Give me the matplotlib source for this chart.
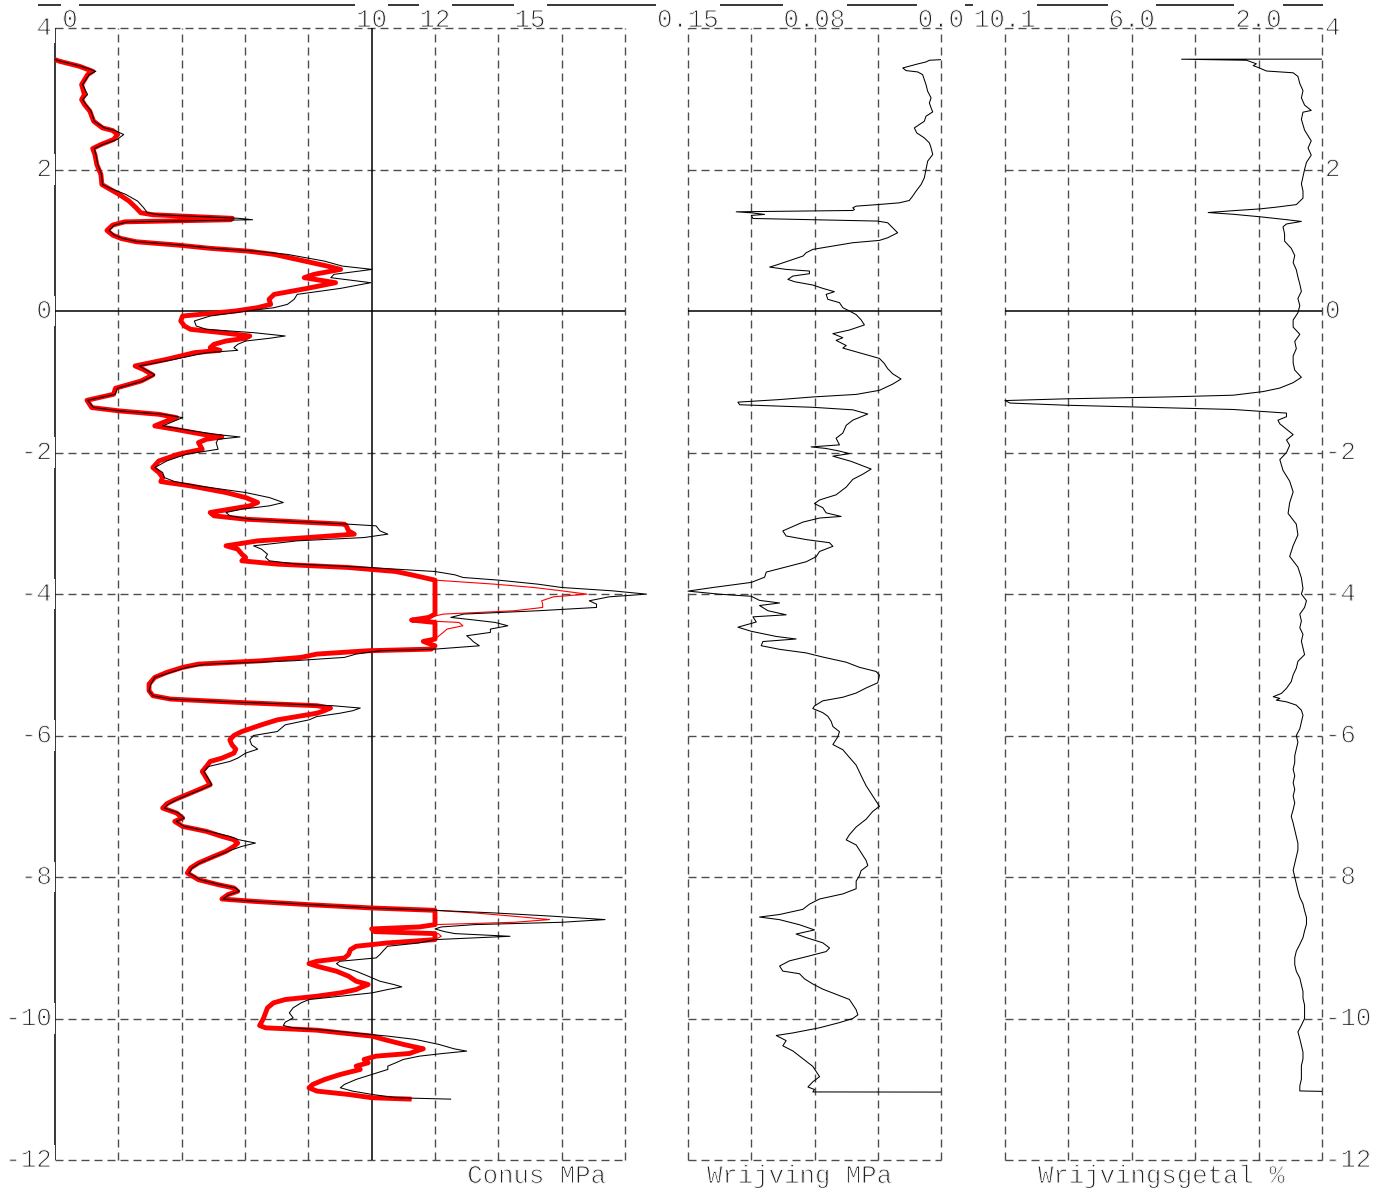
import matplotlib
matplotlib.use("Agg")
import matplotlib.pyplot as plt
import matplotlib.patheffects as pe
import numpy as np
from matplotlib.lines import Line2D
from matplotlib.transforms import IdentityTransform

plt.rcParams['font.family'] = ['Liberation Mono', 'DejaVu Sans Mono']
plt.rcParams['lines.scale_dashes'] = False
plt.rcParams['lines.solid_capstyle'] = 'butt'
plt.rcParams['lines.dash_capstyle'] = 'butt'

W, H, DPI = 1385, 1188, 100
PX = 72.0 / DPI          # points per pixel
FS = 18.5
# light strokes for the lettering
THIN = [pe.Normal(), pe.Stroke(linewidth=0.75, foreground='white')]

# ---------------- cone resistance (MPa) ----------------
conus_depth = [
    3.553, 3.529, 3.459, 3.388, 3.341, 3.200, 3.059, 2.988, 2.918, 2.824,
    2.682, 2.588, 2.551, 2.494, 2.424, 2.353, 2.296, 2.212, 2.071, 1.929,
    1.788, 1.741, 1.647, 1.553, 1.459, 1.388, 1.360, 1.310, 1.290, 1.260,
    1.214, 1.139, 1.073, 1.026, 0.979, 0.932, 0.885, 0.847, 0.800, 0.706,
    0.635, 0.588, 0.518, 0.471, 0.400, 0.320, 0.235, 0.165, 0.094, 0.047,
    0.000,
    -0.071, -0.141, -0.212, -0.259, -0.306, -0.353, -0.386, -0.424, -0.471, -0.518,
    -0.556, -0.589, -0.683, -0.777, -0.824, -0.904, -0.989, -1.092, -1.177, -1.262,
    -1.365, -1.412, -1.460, -1.507, -1.554, -1.624, -1.671, -1.742, -1.780, -1.813,
    -1.860, -1.954, -2.024, -2.119, -2.213, -2.283, -2.354, -2.411, -2.472, -2.566,
    -2.637, -2.707, -2.754, -2.801, -2.848, -2.895, -2.943, -2.976, -3.013, -3.037,
    -3.107, -3.154, -3.202, -3.249, -3.319, -3.366, -3.437, -3.484, -3.531, -3.578,
    -3.625, -3.682, -3.729, -3.766, -3.804, -3.861, -3.908, -3.955, -4.002, -4.040,
    -4.096, -4.143, -4.190, -4.237, -4.284, -4.331, -4.369, -4.402, -4.449, -4.496,
    -4.543, -4.590, -4.637, -4.670, -4.732, -4.779, -4.802, -4.849, -4.896, -4.944,
    -4.991, -5.038, -5.108, -5.179, -5.273, -5.367, -5.438, -5.485, -5.532, -5.579,
    -5.612, -5.650, -5.685, -5.732, -5.779, -5.849, -5.944, -6.000, -6.061, -6.132,
    -6.193, -6.249, -6.320, -6.367, -6.438, -6.508, -6.602, -6.696, -6.767, -6.838,
    -6.908, -6.965, -7.026, -7.096, -7.167, -7.214, -7.285, -7.355, -7.426, -7.473,
    -7.520, -7.567, -7.638, -7.708, -7.802, -7.873, -7.944, -8.038, -8.108, -8.155,
    -8.202, -8.249, -8.311, -8.344, -8.391, -8.438, -8.471, -8.508, -8.555, -8.602,
    -8.640, -8.673, -8.706, -8.734, -8.772, -8.800, -8.838, -8.885, -8.932, -8.979,
    -9.026, -9.096, -9.144, -9.191, -9.224, -9.261, -9.332, -9.402, -9.473, -9.520,
    -9.553, -9.591, -9.638, -9.685, -9.732, -9.779, -9.849, -9.920, -9.991, -10.052,
    -10.099, -10.132, -10.165, -10.202, -10.249, -10.296, -10.367, -10.428, -10.461, -10.494,
    -10.532, -10.579, -10.626, -10.673, -10.720, -10.791, -10.861, -10.932, -10.979, -11.026,
    -11.073, -11.120, -11.140,
]

# measured cone resistance
conus_raw = [
    0.00, 0.19, 0.82, 1.29, 1.08, 0.87, 1.03, 0.87, 0.98, 1.14,
    1.24, 1.56, 1.89, 2.17, 1.96, 1.50, 1.24, 1.29, 1.35, 1.47,
    1.50, 1.71, 2.24, 2.61, 2.80, 2.92, 3.30, 5.80, 6.24, 2.30,
    1.87, 1.71, 1.87, 2.13, 2.61, 3.97, 5.03, 6.29, 7.34, 8.50,
    9.07, 10.02, 8.81, 8.71, 9.97, 9.02, 7.65, 7.55, 7.34, 6.92,
    6.08,
    4.90, 4.40, 4.46, 4.78, 6.27, 7.27, 6.77, 6.02, 5.77, 5.65,
    5.77, 4.78, 3.78, 2.66, 2.84, 3.15, 2.78, 1.97, 1.90, 1.03,
    1.22, 2.03, 3.40, 4.03, 3.78, 3.40, 4.03, 5.02, 5.84, 5.15,
    5.09, 5.15, 4.15, 3.53, 3.15, 3.40, 3.45, 3.78, 4.53, 6.02,
    6.77, 7.21, 6.77, 5.90, 5.40, 5.52, 6.15, 7.64, 9.26, 10.14,
    10.26, 10.51, 9.76, 7.64, 6.27, 6.52, 6.71, 6.65, 6.77, 7.64,
    9.89, 12.00, 12.63, 12.88, 14.00, 15.25, 16.00, 17.60, 18.68, 17.50,
    16.87, 17.10, 17.10, 15.25, 12.90, 12.50, 13.27, 13.90, 14.30, 13.75,
    13.75, 13.00, 13.13, 13.20, 13.40, 12.00, 10.26, 9.51, 9.14, 7.52,
    4.78, 4.15, 3.65, 3.15, 3.03, 2.97, 3.09, 3.65, 5.90, 8.77,
    9.64, 9.40, 9.00, 8.27, 8.02, 7.27, 7.02, 6.27, 6.15, 6.21,
    6.40, 6.02, 5.77, 5.52, 4.85, 4.70, 4.83, 4.95, 4.60, 4.20,
    3.85, 3.60, 3.45, 3.90, 4.08, 3.83, 4.08, 4.85, 5.52, 5.80,
    6.33, 5.90, 5.45, 5.07, 4.58, 4.33, 4.23, 4.58, 5.20, 5.70,
    5.82, 5.50, 5.30, 6.30, 8.10, 10.01, 12.00, 13.88, 15.75, 17.37,
    16.00, 13.25, 12.20, 12.00, 12.30, 12.63, 14.37, 12.00, 11.50, 10.50,
    10.40, 10.26, 10.14, 9.00, 8.89, 9.00, 9.51, 9.89, 10.26, 10.70,
    10.95, 10.50, 10.01, 9.01, 8.02, 7.77, 7.52, 7.40, 7.52, 7.27,
    7.21, 7.52, 8.52, 9.39, 10.51, 11.38, 12.13, 12.60, 13.00, 12.26,
    11.51, 11.00, 10.76, 10.51, 10.51, 10.01, 9.51, 9.14, 9.01, 9.39,
    10.01, 10.76, 12.51,
]

# corrected cone resistance
conus_corr = [
    0.00, 0.15, 0.77, 1.19, 1.03, 0.84, 0.93, 0.84, 0.93, 1.10,
    1.22, 1.50, 1.82, 1.98, 1.85, 1.45, 1.19, 1.26, 1.32, 1.45,
    1.48, 1.66, 2.03, 2.34, 2.56, 2.71, 3.10, 5.60, 5.55, 2.20,
    1.82, 1.64, 1.82, 2.08, 2.56, 3.87, 4.92, 6.08, 6.92, 7.87,
    8.60, 9.02, 8.18, 7.87, 8.86, 7.97, 6.92, 6.76, 6.81, 6.39,
    5.70,
    4.03, 3.97, 4.09, 4.28, 5.27, 6.15, 6.00, 5.40, 5.02, 4.90,
    5.21, 4.40, 3.53, 2.53, 2.78, 3.09, 2.72, 1.91, 1.85, 1.01,
    1.16, 2.03, 3.28, 3.84, 3.53, 3.15, 3.78, 4.65, 5.27, 4.78,
    4.53, 4.65, 3.90, 3.28, 3.09, 3.28, 3.40, 3.34, 4.28, 5.40,
    6.02, 6.40, 6.15, 5.52, 4.90, 5.02, 6.02, 7.52, 9.14, 9.20,
    9.27, 9.45, 8.00, 6.40, 5.40, 5.77, 5.90, 6.02, 5.90, 7.02,
    9.26, 10.76, 11.26, 11.63, 12.00, 13.88, 15.12, 16.00, 16.80, 15.74,
    15.37, 15.40, 15.40, 14.50, 12.26, 11.80, 11.26, 12.76, 12.88, 12.38,
    12.26, 12.13, 12.00, 11.63, 12.00, 11.88, 9.89, 8.27, 7.77, 6.52,
    4.53, 4.03, 3.53, 3.15, 2.97, 2.97, 3.09, 3.65, 5.77, 8.27,
    8.70, 8.50, 8.27, 7.64, 7.02, 6.52, 5.90, 5.65, 5.52, 5.59,
    5.71, 5.65, 5.27, 4.90, 4.78, 4.65, 4.78, 4.90, 4.53, 4.15,
    3.78, 3.53, 3.40, 3.84, 4.03, 3.78, 4.03, 4.78, 5.27, 5.65,
    5.77, 5.65, 5.40, 5.02, 4.53, 4.28, 4.18, 4.53, 5.15, 5.65,
    5.77, 5.46, 5.27, 6.27, 8.02, 10.01, 12.00, 13.25, 14.50, 15.62,
    14.50, 12.00, 11.50, 10.00, 10.10, 12.10, 12.20, 12.00, 10.50, 9.51,
    9.33, 9.27, 9.14, 8.27, 8.02, 8.27, 8.89, 9.27, 9.51, 9.89,
    9.70, 9.51, 9.01, 8.27, 7.27, 6.90, 6.71, 6.65, 6.59, 6.52,
    6.46, 6.65, 8.27, 9.01, 10.01, 10.39, 11.01, 11.63, 11.40, 11.20,
    10.14, 9.76, 9.89, 9.51, 9.64, 9.01, 8.52, 8.14, 8.02, 8.27,
    9.26, 10.01, 11.26,
]
conus_cap = 12.0

# ---------------- sleeve friction (MPa) ----------------
wr_depth = [
    3.553, 3.544, 3.520, 3.492, 3.473, 3.435, 3.398, 3.379, 3.341, 3.200,
    3.106, 3.012, 2.941, 2.871, 2.814, 2.753, 2.682, 2.588, 2.518, 2.447,
    2.376, 2.306, 2.212, 2.118, 2.000, 1.882, 1.788, 1.694, 1.624, 1.562,
    1.529, 1.506, 1.482, 1.459, 1.435, 1.421, 1.402, 1.388, 1.365, 1.351,
    1.308, 1.271, 1.247, 1.176, 1.106, 1.035, 0.998, 0.965, 0.918, 0.871,
    0.824, 0.776, 0.729, 0.696, 0.649, 0.621, 0.588, 0.565, 0.527, 0.494,
    0.447, 0.414, 0.367, 0.320, 0.273, 0.235, 0.165, 0.118, 0.047, 0.000,
    -0.051, -0.124, -0.197, -0.269, -0.320, -0.378, -0.415, -0.488, -0.524, -0.597,
    -0.670, -0.742, -0.815, -0.888, -0.961, -1.033, -1.121, -1.179, -1.215, -1.252,
    -1.288, -1.325, -1.361, -1.397, -1.456, -1.543, -1.616, -1.725, -1.798, -1.892,
    -1.921, -1.943, -1.980, -2.016, -2.052, -2.125, -2.234, -2.307, -2.380, -2.489,
    -2.598, -2.671, -2.722, -2.780, -2.853, -2.904, -2.926, -2.984, -3.035, -3.108,
    -3.180, -3.231, -3.275, -3.326, -3.399, -3.472, -3.544, -3.617, -3.690, -3.763,
    -3.836, -3.908, -3.959, -4.003, -4.032, -4.090, -4.127, -4.163, -4.236, -4.294,
    -4.323, -4.396, -4.469, -4.527, -4.600, -4.636, -4.672, -4.731, -4.782, -4.833,
    -4.891, -4.964, -5.036, -5.095, -5.146, -5.255, -5.328, -5.400, -5.459, -5.510,
    -5.582, -5.619, -5.677, -5.728, -5.801, -5.873, -5.946, -6.019, -6.128, -6.201,
    -6.310, -6.419, -6.565, -6.710, -6.820, -6.929, -7.001, -7.074, -7.183, -7.293,
    -7.402, -7.475, -7.547, -7.656, -7.766, -7.838, -7.911, -7.984, -8.057, -8.166,
    -8.239, -8.311, -8.384, -8.457, -8.530, -8.566, -8.603, -8.675, -8.748, -8.806,
    -8.857, -8.930, -9.003, -9.054, -9.127, -9.185, -9.258, -9.330, -9.367, -9.440,
    -9.512, -9.585, -9.658, -9.731, -9.803, -9.876, -9.949, -10.000, -10.058, -10.131,
    -10.204, -10.240, -10.313, -10.386, -10.459, -10.531, -10.604, -10.677, -10.750, -10.822,
    -10.895, -10.968, -11.004, -11.038, -11.040,
]
wr_value = [
    0.0000, 0.0069, 0.0089, 0.0138, 0.0168, 0.0227, 0.0207, 0.0138, 0.0109, 0.0089,
    0.0079, 0.0059, 0.0069, 0.0059, 0.0049, 0.0089, 0.0099, 0.0158, 0.0144, 0.0099,
    0.0069, 0.0059, 0.0049, 0.0079, 0.0089, 0.0099, 0.0118, 0.0148, 0.0168, 0.0188,
    0.0247, 0.0365, 0.0503, 0.0523, 0.0513, 0.0523, 0.1214, 0.1125, 0.1046, 0.1125,
    0.1115, 0.0375, 0.0316, 0.0286, 0.0257, 0.0316, 0.0365, 0.0523, 0.0641, 0.0760,
    0.0799, 0.0819, 0.0878, 0.0918, 0.0977, 0.1016, 0.0918, 0.0780, 0.0780, 0.0878,
    0.0908, 0.0868, 0.0760, 0.0701, 0.0632, 0.0681, 0.0671, 0.0602, 0.0582, 0.0543,
    0.0503, 0.0474, 0.0454, 0.0543, 0.0641, 0.0582, 0.0622, 0.0562, 0.0582, 0.0474,
    0.0365, 0.0336, 0.0316, 0.0286, 0.0237, 0.0286, 0.0365, 0.0503, 0.0760, 0.0957,
    0.1204, 0.1194, 0.0760, 0.0523, 0.0434, 0.0523, 0.0562, 0.0582, 0.0622, 0.0602,
    0.0770, 0.0681, 0.0602, 0.0543, 0.0641, 0.0533, 0.0414, 0.0464, 0.0523, 0.0562,
    0.0622, 0.0720, 0.0750, 0.0701, 0.0681, 0.0592, 0.0720, 0.0819, 0.0868, 0.0938,
    0.0918, 0.0799, 0.0661, 0.0641, 0.0720, 0.0740, 0.0799, 0.0918, 0.1036, 0.1046,
    0.1125, 0.1352, 0.1500, 0.1313, 0.1125, 0.1076, 0.0957, 0.1076, 0.1026, 0.0918,
    0.1115, 0.1095, 0.1204, 0.1125, 0.0977, 0.0859, 0.1056, 0.1066, 0.0957, 0.0799,
    0.0701, 0.0562, 0.0484, 0.0385, 0.0365, 0.0375, 0.0444, 0.0503, 0.0582, 0.0701,
    0.0750, 0.0760, 0.0701, 0.0671, 0.0651, 0.0641, 0.0602, 0.0612, 0.0641, 0.0582,
    0.0543, 0.0503, 0.0474, 0.0444, 0.0414, 0.0385, 0.0365, 0.0405, 0.0444, 0.0503,
    0.0543, 0.0562, 0.0503, 0.0474, 0.0444, 0.0434, 0.0474, 0.0484, 0.0503, 0.0503,
    0.0582, 0.0720, 0.0780, 0.0819, 0.0957, 0.1076, 0.0957, 0.0839, 0.0750, 0.0859,
    0.0799, 0.0701, 0.0661, 0.0681, 0.0799, 0.0898, 0.0957, 0.0938, 0.0839, 0.0809,
    0.0760, 0.0701, 0.0622, 0.0543, 0.0523, 0.0503, 0.0493, 0.0523, 0.0602, 0.0720,
    0.0878, 0.0977, 0.0918, 0.0938, 0.0878, 0.0839, 0.0799, 0.0760, 0.0740, 0.0720,
    0.0760, 0.0789, 0.0750, 0.0760, 0.0000,
]

# ---------------- friction ratio (%) ----------------
rf_depth = [
    3.560, 3.559, 3.544, 3.519, 3.494, 3.468, 3.443, 3.392, 3.367, 3.316,
    3.215, 3.114, 3.013, 2.911, 2.835, 2.810, 2.709, 2.557, 2.405, 2.304,
    2.203, 2.101, 2.000, 1.899, 1.797, 1.696, 1.595, 1.504, 1.468, 1.443,
    1.418, 1.392, 1.367, 1.332, 1.291, 1.266, 1.230, 1.190, 1.089, 0.987,
    0.886, 0.785, 0.684, 0.582, 0.481, 0.380, 0.278, 0.177, 0.076, -0.025,
    -0.127, -0.228, -0.329, -0.430, -0.532, -0.633, -0.734, -0.835, -0.937, -1.013,
    -1.089, -1.139, -1.190, -1.215, -1.241, -1.266, -1.301, -1.332, -1.367, -1.392,
    -1.418, -1.443, -1.494, -1.544, -1.595, -1.671, -1.747, -1.823, -1.899, -2.000,
    -2.101, -2.253, -2.405, -2.557, -2.709, -2.861, -3.013, -3.165, -3.316, -3.468,
    -3.620, -3.772, -3.924, -4.000, -4.095, -4.190, -4.286, -4.381, -4.476, -4.571,
    -4.667, -4.762, -4.857, -4.952, -5.048, -5.143, -5.238, -5.333, -5.405, -5.452,
    -5.476, -5.500, -5.524, -5.571, -5.643, -5.714, -5.810, -5.905, -6.000, -6.095,
    -6.190, -6.286, -6.381, -6.476, -6.571, -6.667, -6.762, -6.857, -6.952, -7.048,
    -7.143, -7.238, -7.333, -7.429, -7.524, -7.619, -7.714, -7.810, -7.905, -8.000,
    -8.095, -8.190, -8.286, -8.381, -8.476, -8.571, -8.667, -8.762, -8.857, -8.952,
    -9.048, -9.143, -9.238, -9.333, -9.429, -9.524, -9.619, -9.714, -9.810, -9.905,
    -10.000, -10.095, -10.190, -10.286, -10.381, -10.476, -10.571, -10.667, -10.762, -10.857,
    -10.952, -11.024, -11.030,
]
rf_value = [
    0.00, 4.43, 2.38, 2.23, 2.07, 2.17, 2.02, 1.75, 0.91, 0.76,
    0.70, 0.60, 0.65, 0.55, 0.34, 0.60, 0.65, 0.55, 0.34, 0.44,
    0.34, 0.49, 0.55, 0.60, 0.65, 0.60, 0.60, 0.81, 1.44, 1.96,
    2.80, 3.59, 2.80, 1.96, 1.12, 0.65, 1.12, 1.23, 1.18, 1.18,
    0.97, 0.86, 0.91, 0.81, 0.76, 0.70, 0.65, 0.76, 0.70, 0.76,
    0.91, 0.91, 0.70, 0.86, 0.81, 0.91, 0.91, 0.86, 0.65, 0.91,
    1.33, 1.86, 2.80, 4.91, 8.06, 10.00, 9.84, 8.06, 4.91, 2.80,
    1.96, 1.12, 1.12, 1.39, 1.33, 1.12, 0.91, 1.12, 1.02, 1.12,
    1.33, 1.23, 1.02, 0.91, 1.02, 1.07, 0.81, 0.76, 0.91, 1.02,
    0.76, 0.65, 0.60, 0.65, 0.49, 0.55, 0.70, 0.65, 0.70, 0.60,
    0.65, 0.60, 0.55, 0.76, 0.81, 0.91, 0.97, 1.12, 1.28, 1.54,
    1.33, 1.44, 1.12, 0.81, 0.65, 0.60, 0.65, 0.70, 0.81, 0.76,
    0.81, 0.86, 0.86, 0.91, 0.86, 0.91, 0.86, 0.91, 0.86, 0.91,
    0.97, 0.91, 0.86, 0.81, 0.76, 0.76, 0.81, 0.86, 0.91, 0.86,
    0.81, 0.76, 0.70, 0.60, 0.55, 0.49, 0.49, 0.55, 0.60, 0.70,
    0.81, 0.86, 0.86, 0.81, 0.70, 0.65, 0.60, 0.60, 0.55, 0.55,
    0.55, 0.65, 0.76, 0.70, 0.65, 0.60, 0.60, 0.65, 0.65, 0.65,
    0.70, 0.70, 0.00,
]

depth_labels = [4, 2, 0, -2, -4, -6, -8, -10, -12]
depth_grid = [2, -2, -4, -6, -8, -10]

conus_grid = [2, 4, 6, 8, 12, 14, 16, 18]
conus_solid = [0, 10]
conus_top = [(0, "0"), (10, "10"), (12, "12"), (15, "15")]
wr_grid = [0.15, 0.1125, 0.075, 0.0375, 0.0]
wr_top = [(0.15, "0.15"), (0.075, "0.08"), (0.0, "0.0")]
rf_grid = [10, 8, 6, 4, 2, 0]
rf_top = [(10, "10.1"), (6, "6.0"), (2, "2.0")]

# ---------------- figure ----------------
fig = plt.figure(figsize=(W / DPI, H / DPI), dpi=DPI, facecolor='white')

TOP_PX, BOT_PX = 28, 1160


def panel(x0, x1, xlim):
    ax = fig.add_axes([x0 / W, 1 - BOT_PX / H, (x1 - x0) / W, (BOT_PX - TOP_PX) / H])
    ax.set_xlim(*xlim)
    ax.set_ylim(-12, 4)
    ax.set_axis_off()
    return ax


ax_q = panel(55, 625, (0, 18))
ax_f = panel(688, 941, (0.15, 0.0))
ax_r = panel(1005, 1322, (10, 0))

GRID = '#4d4d4d'
DASH = (0, (8 * PX, 5 * PX))
GLW = 1.0


def frame(ax, xdash, xsolid=()):
    for v in depth_grid + [4, -12]:
        ax.axhline(v, color=GRID, lw=GLW, linestyle=DASH, clip_on=False, zorder=1)
    for v in xdash:
        ax.axvline(v, color=GRID, lw=GLW, linestyle=DASH, clip_on=False, zorder=1)
    for v in xsolid:
        ax.axvline(v, color='black', lw=1.1, clip_on=False, zorder=1.5)
    ax.axhline(0, color='black', lw=1.1, clip_on=False, zorder=1.5)


frame(ax_q, conus_grid, conus_solid)
frame(ax_f, wr_grid)
frame(ax_r, rf_grid)

# cone resistance: thick capped curve, thin corrected curve, thin measured curve
ax_q.plot(np.minimum(conus_corr, conus_cap), conus_depth, color='#ff0000', lw=3.5,
          solid_joinstyle='round', clip_on=False, zorder=3)
ax_q.plot(conus_corr, conus_depth, color='#ff0000', lw=0.8, clip_on=False, zorder=4)
ax_q.plot(conus_raw, conus_depth, color='black', lw=0.75, clip_on=False, zorder=5)

ax_f.plot(wr_value, wr_depth, color='black', lw=0.75, clip_on=False, zorder=5)
ax_r.plot(rf_value, rf_depth, color='black', lw=0.75, clip_on=False, zorder=5)

# depth labels on both sides
label_box = dict(boxstyle='square,pad=0.12', fc='white', ec='none')
for v in depth_labels:
    ax_q.annotate(str(v), xy=(0, v), xycoords=('axes fraction', 'data'),
                  xytext=(-3 * PX, 0), textcoords='offset points',
                  ha='right', va='center', fontsize=FS, bbox=label_box, zorder=6,
                  color='#222222', path_effects=THIN)
    ax_r.annotate(str(v), xy=(1, v), xycoords=('axes fraction', 'data'),
                  xytext=(3 * PX, 0), textcoords='offset points',
                  ha='left', va='center', fontsize=FS, zorder=6,
                  color='#222222', path_effects=THIN)

# scale labels above each panel
top_labels = []
for ax, items in ((ax_q, conus_top), (ax_f, wr_top), (ax_r, rf_top)):
    for v, s in items:
        dx = 15 * PX if (ax is ax_q and v == 0) else 0
        t = ax.annotate(s, xy=(v, 1), xycoords=('data', 'axes fraction'),
                        xytext=(dx, 1 * PX), textcoords='offset points',
                        ha='center', va='baseline', fontsize=FS,
                        color='#222222', path_effects=THIN)
        top_labels.append(t)

# panel titles
title_kw = dict(ha='center', va='baseline', fontsize=FS, color='#222222', path_effects=THIN)
fig.text(537 / W, 5 / H, "Conus MPa", **title_kw)
fig.text(800 / W, 5 / H, "Wrijving MPa", **title_kw)
fig.text(1162 / W, 5 / H, "Wrijvingsgetal %", **title_kw)

# rule along the top, interrupted by the scale labels
fig.canvas.draw()
renderer = fig.canvas.get_renderer()
spans = sorted((e.x0, e.x1) for e in (t.get_window_extent(renderer) for t in top_labels))
y_rule = H - 5
cur = 38
for a, b in spans:
    if a - 1 > cur:
        fig.add_artist(Line2D([cur, a - 1], [y_rule, y_rule], transform=IdentityTransform(),
                              color='black', lw=1.1))
    cur = max(cur, b + 1)
if cur < 1323:
    fig.add_artist(Line2D([cur, 1323], [y_rule, y_rule], transform=IdentityTransform(),
                          color='black', lw=1.1))

fig.savefig('out.png', dpi=DPI, facecolor='white')
